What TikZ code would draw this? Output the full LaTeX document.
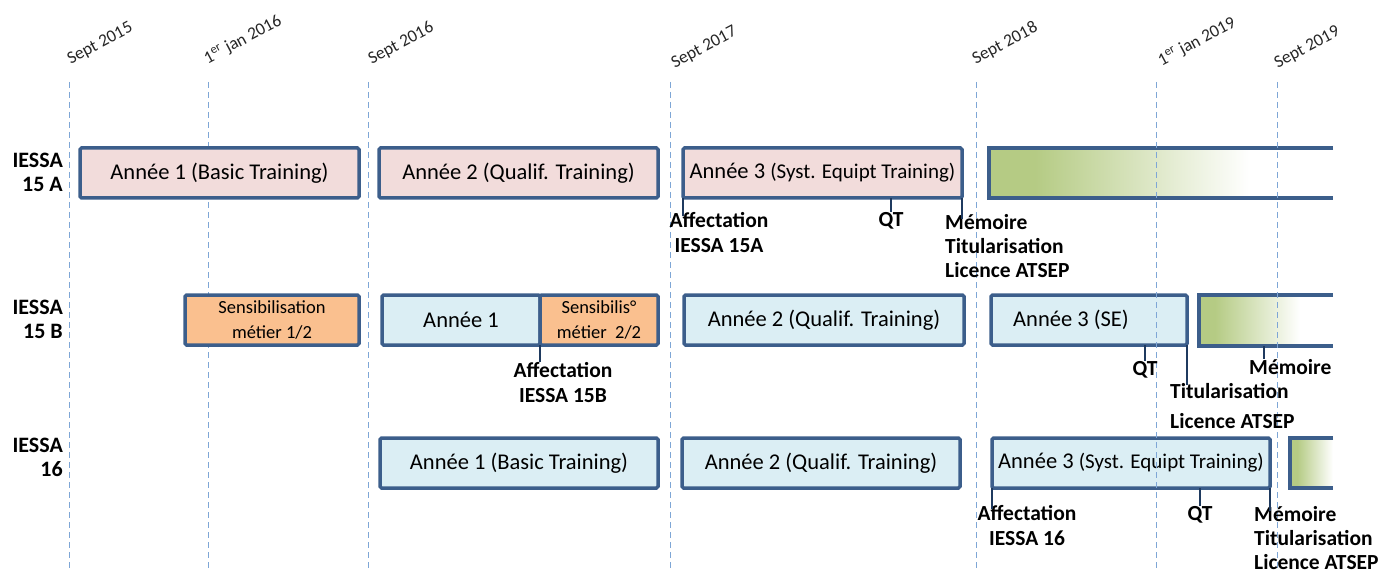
\documentclass[tikz,border=0pt]{standalone}
\usepackage{fontspec}
\setmainfont{Carlito}
\definecolor{bord}{HTML}{3C5E8B}
\definecolor{pinkf}{HTML}{F2DCDB}
\definecolor{bluef}{HTML}{DBEEF4}
\definecolor{orangef}{HTML}{FAC08F}
\definecolor{greenf}{HTML}{B5CB84}
\definecolor{dashc}{HTML}{7EA6D6}
\definecolor{tickc}{HTML}{1F3A5F}
\tikzset{
  box/.style={draw=bord, line width=3.5pt, rounded corners=1.5pt, inner sep=0pt, outer sep=0pt,
              minimum height=50pt, font=\fontsize{22.5}{26}\selectfont, align=center},
  smallbox/.style={box, font=\fontsize{18.5}{25}\selectfont},
  openbox/.style={draw=bord, line width=3.5pt},
  dashline/.style={draw=dashc, line width=1pt, dash pattern=on 6pt off 4pt},
  datelab/.style={font=\fontsize{17.5}{19}\selectfont, rotate=28, anchor=south west, inner sep=0pt, text=black!85},
  rowlab/.style={font=\bfseries\fontsize{22}{24}\selectfont, align=right, anchor=east, inner sep=0pt},
  milestone/.style={font=\bfseries\fontsize{21.5}{25}\selectfont, inner sep=0pt, text=black},
  tickline/.style={draw=tickc, line width=1.8pt},
}
\newcommand\tlbox[7]{\node[#6, fill=#5, minimum width={#3-#2}] (#1) at ({(#2+#3)/2},#4) {#7};}
\begin{document}
\begin{tikzpicture}[x=1pt,y=-1pt]
\useasboundingbox (0,0) rectangle (1381,572);

% date labels
\node[datelab] (d1) at (72,67) {Sept 2015};
\node[datelab] (d2) at (209,67) {1\textsuperscript{er} jan 2016};
\node[datelab] (d3) at (373,67) {Sept 2016};
\node[datelab] (d4) at (676,71) {Sept 2017};
\node[datelab] (d5) at (977,67) {Sept 2018};
\node[datelab] (d6) at (1163,69) {1\textsuperscript{er} jan 2019};
\node[datelab] (d7) at (1279,71) {Sept 2019};

% dashed time lines (behind boxes)
\foreach \x/\n in {69/1,208/2,368/3,670/4,976/5}{
  \coordinate (t\n) at (\x,82);
  \draw[dashline] (t\n) -- (t\n |- 0,572);
}

% row labels
\node[rowlab] (rA) at (63,172) {IESSA\\15 A};
\node[rowlab] (rB) at (63,319) {IESSA\\15 B};
\node[rowlab] (rC) at (63,457) {IESSA\\16};

% Row A
\tlbox{A1}{80}{359}{173}{pinkf}{box}{Année 1 (Basic Training)}
\tlbox{A2}{379}{658}{173}{pinkf}{box}{Année 2 (Qualif. Training)}
\tlbox{A3}{683}{962}{173}{pinkf}{box}{Année 3 {\fontsize{21}{25}\selectfont(Syst. Equipt Training)}}
\fill[greenf] (989,148) rectangle (1036,198);
\shade[left color=greenf, right color=white] (1035,148) rectangle (1250,198);
\draw[openbox] (1333,148) -- (989,148) -- (989,198) -- (1333,198);

% Row B
\tlbox{B1}{185}{359}{320}{orangef}{smallbox}{Sensibilisation\\métier 1/2}
\tlbox{B2}{382}{540}{320}{bluef}{box}{Année 1}
\tlbox{B3}{540}{658}{320}{orangef}{smallbox}{Sensibilis°\\métier\ \ 2/2}
\tlbox{B4}{684}{964}{320}{bluef}{box}{Année 2 (Qualif. Training)}
\tlbox{B5}{991}{1187}{320}{bluef}{box}{Année 3 (SE)\hspace{36pt}}
\fill[greenf] (1199,295) rectangle (1216,346);
\shade[left color=greenf, right color=white] (1215,295) rectangle (1300,346);
\draw[openbox] (1333,295) -- (1199,295) -- (1199,346) -- (1333,346);

% Row C
\tlbox{C1}{380}{658}{463}{bluef}{box}{Année 1 (Basic Training)}
\tlbox{C2}{682}{960}{463}{bluef}{box}{Année 2 (Qualif. Training)}
\tlbox{C3}{992}{1270}{463}{bluef}{box}{Année 3 {\fontsize{21}{25}\selectfont(Syst. Equipt Training)}}
\fill[greenf] (1290,438) rectangle (1298,488);
\shade[left color=greenf, right color=white] (1297,438) rectangle (1333,488);
\draw[openbox] (1333,438) -- (1290,438) -- (1290,488) -- (1333,488);

% dashed time lines drawn over boxes
\foreach \x/\n in {1156/6,1277/7}{
  \coordinate (t\n) at (\x,82);
  \draw[dashline] (t\n) -- (t\n |- 0,572);
}

% milestones row A
\node[milestone, align=center, anchor=north] (affA) at (719,212) {Affectation\\IESSA 15A};
\node[milestone, anchor=north] (qtA) at (891,212) {QT};
\node[milestone, align=left, anchor=north west] (memA) at (945,214) {Mémoire\\[-1pt]Titularisation\\[-1pt]Licence ATSEP};
\draw[tickline] (A3.south west) -- ([yshift=-4pt]A3.south west |- affA.north);
\draw[tickline] (qtA.north |- A3.south) -- (qtA.north);
\draw[tickline] (A3.south east) -- ([yshift=-5pt]A3.south east |- memA.north);

% milestones row B
\node[milestone, align=center, anchor=north] (affB) at (563,362) {Affectation\\IESSA 15B};
\node[milestone, anchor=north] (qtB) at (1145,361) {QT};
\node[milestone, align=left, anchor=north west] (titB) at (1170,383) {Titularisation\\[5pt]Licence ATSEP};
\node[milestone, anchor=north west] (memB) at (1249,359) {Mémoire};
\draw[tickline] (B2.south east) -- (B2.south east |- affB.north);
\draw[tickline] (qtB.north |- B5.south) -- (qtB.north);
\draw[tickline] (B5.south east) -- ([yshift=-2pt]B5.south east |- titB.north);
\draw[tickline] (1264,346) coordinate (mB) -- (mB |- memB.north);

% milestones row C
\node[milestone, align=center, anchor=north] (affC) at (1027,505) {Affectation\\IESSA 16};
\node[milestone, anchor=north] (qtC) at (1200,506) {QT};
\node[milestone, align=left, anchor=north west] (memC) at (1254,506) {Mémoire\\[-1pt]Titularisation\\[-1pt]Licence ATSEP};
\draw[tickline] (C3.south west) -- ([yshift=-4pt]C3.south west |- affC.north);
\draw[tickline] (qtC.north |- C3.south) -- (qtC.north);
\draw[tickline] (C3.south east) -- ([yshift=-5pt]C3.south east |- memC.north);
\end{tikzpicture}
\end{document}
